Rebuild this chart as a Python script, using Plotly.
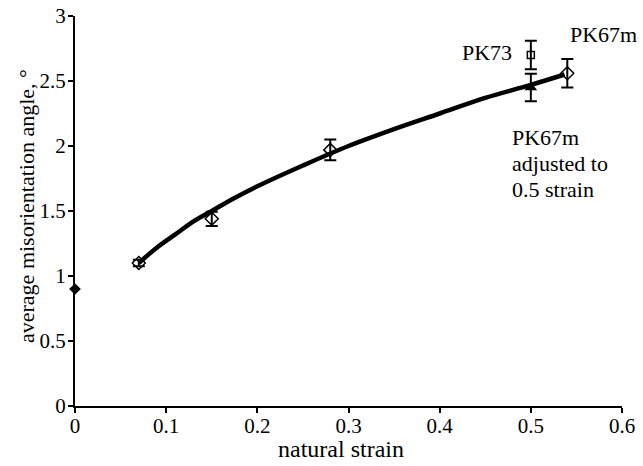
import plotly.graph_objects as go

# fitted curve
curve_x = [0.07, 0.09, 0.11, 0.13, 0.15, 0.175, 0.2, 0.25, 0.3, 0.35, 0.4, 0.45, 0.5, 0.537]
curve_y = [1.10, 1.22, 1.32, 1.42, 1.50, 1.60, 1.69, 1.85, 2.00, 2.13, 2.25, 2.37, 2.47, 2.55]

# undeformed sample
start_x = [0.0]
start_y = [0.9]

# open diamond samples
samp_x = [0.07, 0.15, 0.28, 0.54]
samp_y = [1.10, 1.44, 1.97, 2.56]
samp_err = [0.025, 0.055, 0.08, 0.11]

# PK73
pk73_x = [0.5]
pk73_y = [2.70]
pk73_err = [0.11]

# PK67m adjusted to 0.5 strain
adj_x = [0.5]
adj_y = [2.45]
adj_err = [0.105]

x_ticks = [0, 0.1, 0.2, 0.3, 0.4, 0.5, 0.6]
x_ticklabels = ["0", "0.1", "0.2", "0.3", "0.4", "0.5", "0.6"]
y_ticks = [0, 0.5, 1, 1.5, 2, 2.5, 3]
y_ticklabels = ["0", "0.5", "1", "1.5", "2", "2.5", "3"]

FONT = "Liberation Serif, Times New Roman, Times, serif"

fig = go.Figure()

fig.add_trace(go.Scatter(
    x=samp_x, y=samp_y, mode="markers",
    marker=dict(symbol="diamond-open", size=10, color="black", line=dict(width=1.5, color="black")),
    error_y=dict(type="data", array=samp_err, color="black", thickness=2, width=6),
    cliponaxis=False, showlegend=False))

fig.add_trace(go.Scatter(
    x=pk73_x, y=pk73_y, mode="markers",
    marker=dict(symbol="square-open", size=7, color="black", line=dict(width=1.5, color="black")),
    error_y=dict(type="data", array=pk73_err, color="black", thickness=2, width=6),
    cliponaxis=False, showlegend=False))

fig.add_trace(go.Scatter(
    x=curve_x, y=curve_y, mode="lines",
    line=dict(color="black", width=4.5, shape="spline"),
    cliponaxis=False, showlegend=False))

fig.add_trace(go.Scatter(
    x=adj_x, y=adj_y, mode="markers",
    marker=dict(symbol="triangle-up", size=11, color="black"),
    error_y=dict(type="data", array=adj_err, color="black", thickness=2, width=6),
    cliponaxis=False, showlegend=False))

fig.add_trace(go.Scatter(
    x=start_x, y=start_y, mode="markers",
    marker=dict(symbol="diamond", size=9, color="black"),
    cliponaxis=False, showlegend=False))

axis_common = dict(
    showgrid=False, zeroline=False, showline=True, linecolor="black", linewidth=2,
    ticks="outside", ticklen=5, tickwidth=2, tickcolor="black", automargin=False,
    tickfont=dict(family=FONT, size=21, color="black"),
)

fig.update_xaxes(range=[0, 0.6], tickvals=x_ticks, ticktext=x_ticklabels,
                 ticklabelstandoff=-5, **axis_common)
fig.update_yaxes(range=[0, 3], tickvals=y_ticks, ticktext=y_ticklabels,
                 ticklabelstandoff=-2, **axis_common)

fig.add_annotation(x=0.5, y=0, xref="paper", yref="paper", text="natural strain",
                   showarrow=False, xanchor="center", yanchor="middle", xshift=-8, yshift=-43,
                   font=dict(family=FONT, size=24, color="black"))
fig.add_annotation(x=0, y=0.5, xref="paper", yref="paper", text="average misorientation angle, °",
                   showarrow=False, textangle=-90, xanchor="center", yanchor="middle",
                   xshift=-49, yshift=5, font=dict(family=FONT, size=22, color="black"))

ann_font = dict(family=FONT, size=22, color="black")
fig.add_annotation(x=0.5, y=2.70, xref="x", yref="y", text="PK73", showarrow=False,
                   xanchor="center", yanchor="middle", xshift=-44, yshift=3, font=ann_font)
fig.add_annotation(x=0.54, y=2.56, xref="x", yref="y", text="PK67m", showarrow=False,
                   xanchor="center", yanchor="middle", xshift=36, yshift=39, font=ann_font)
adj_lines = ["PK67m", "adjusted to", "0.5 strain"]
for i, line in enumerate(adj_lines):
    fig.add_annotation(x=0.5, y=2.45, xref="x", yref="y", text=line, showarrow=False,
                       xanchor="left", yanchor="middle", align="left",
                       xshift=-21, yshift=-50 - 26 * i, font=ann_font)

fig.update_layout(
    width=643, height=466,
    margin=dict(l=75, r=21, t=16, b=60),
    paper_bgcolor="white", plot_bgcolor="white",
    font=dict(family=FONT, color="black"),
)

fig.write_html("out.html")
